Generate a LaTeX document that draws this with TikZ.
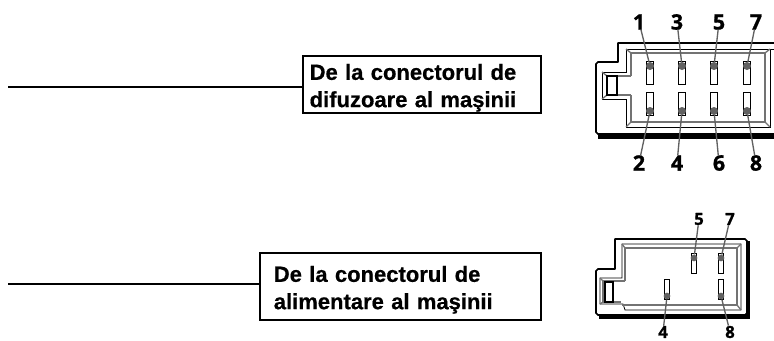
\documentclass[tikz,border=0pt]{standalone}
\usepackage{fontspec}
\setmainfont[BoldFeatures={FakeBold=0.6}]{Liberation Sans}
\newfontfamily\pinfont[BoldFeatures={FakeBold=1.2}]{Open Sans}
\usetikzlibrary{positioning}
\definecolor{leadgray}{gray}{0.38}
\definecolor{wallgray}{gray}{0.45}
\newcommand{\topstrut}{\rule{0pt}{16.9pt}}
\tikzset{
  textbox/.style={draw=black,line width=1pt,rectangle,align=left,inner ysep=0pt,
    font=\bfseries\fontsize{16.5}{20.5}\selectfont},
  pin/.style={draw=black,fill=white,line width=1pt,rectangle,minimum width=5.2pt,minimum height=17pt,inner sep=0pt},
  smallpin/.style={pin,line width=0.8pt,minimum width=4.4pt,minimum height=14.5pt},
  dot/.style={circle,fill=leadgray,minimum size=6pt,inner sep=0pt},
  smalldot/.style={circle,fill=leadgray,minimum size=5pt,inner sep=0pt},
  biglabel/.style={inner sep=0pt,font=\pinfont\bfseries\fontsize{16}{16}\selectfont},
  smalllabel/.style={inner sep=0pt,font=\pinfont\bfseries\fontsize{12.5}{13}\selectfont},
  lead/.style={draw=leadgray,line width=1pt},
  shell/.style={draw=black,line width=1.3pt,fill=white,line join=round},
  wall/.style={draw=black,line width=0.6pt},
  lip/.style={draw=wallgray,line width=1pt}
}
\begin{document}
\begin{tikzpicture}[x=0.75pt,y=-0.75pt]
  \useasboundingbox (0,0) rectangle (774,340);
  \clip (0,0) rectangle (774,340);
  % text boxes
  \node [textbox,minimum width=178.5pt,minimum height=42.75pt,text width=168.5pt,inner xsep=5pt] (boxa) at (422,84.5) {\topstrut De la conectorul de\\difuzoare al maşinii};
  \node [textbox,minimum width=210.75pt,minimum height=50.25pt,text width=190pt,inner xsep=9.75pt] (boxb) at (400.5,286.5) {\topstrut De la conectorul de\\alimentare al maşinii};
  \coordinate (la) at (8,87);
  \coordinate (lb) at (8,284);
  \draw [line width=1pt] (la) -- (la -| boxa.west);
  \draw [line width=1pt] (lb) -- (lb -| boxb.west);
  % upper connector
  \fill (598,134) rectangle (780,139);
  \draw [shell] (780,43) -- (618,43) -- (618,62) -- (598,62) -- (596,64) -- (596,132) -- (598,134) -- (780,134);
  \draw [wall] (780,49) -- (626,49) -- (626,72) -- (602,72) -- (602,99) -- (626,99) -- (626,127) -- (770,127) -- (770,49);
  \draw [lip] (631,76) -- (631,53) -- (765,53) -- (765,122) -- (631,122) -- (631,95);
  \draw [lip] (631,76) -- (607,76) -- (607,95) -- (631,95);
  \draw [lip] (626,49) -- (631,53) (626,127) -- (631,122) (770,127) -- (765,122) (770,49) -- (765,53);
  \draw [lip] (602,72) -- (607,76) (607,95) -- (602,99);
  \draw [black,line width=0.9pt] (607,76) rectangle (617,95);
  \foreach \name/\xpos in {a/650,b/682,c/714,d/747} {
    \node [pin] (up\name) at (\xpos,73) {};
    \node [pin] (lo\name) at (\xpos,104) {};
  }
  \node [dot] (d1) at (650,66) {};
  \node [dot] (d3) at (682,66) {};
  \node [dot] (d5) at (714,66) {};
  \node [dot] (d7) at (747,66) {};
  \node [dot] (d2) at (650,111) {};
  \node [dot] (d4) at (682,111) {};
  \node [dot] (d6) at (714,111) {};
  \node [dot] (d8) at (747,111) {};
  \node [biglabel] (l1) at (639,22) {1};
  \node [biglabel] (l3) at (677,22) {3};
  \node [biglabel] (l5) at (719,22) {5};
  \node [biglabel] (l7) at (756,22) {7};
  \node [biglabel] (l2) at (639,163) {2};
  \node [biglabel] (l4) at (677,163) {4};
  \node [biglabel] (l6) at (719,163) {6};
  \node [biglabel] (l8) at (756,163) {8};
  \path [lead] (l1) edge (d1) (l3) edge (d3) (l5) edge (d5) (l7) edge (d7)
    (l2) edge (d2) (l4) edge (d4) (l6) edge (d6) (l8) edge (d8);
  % lower connector
  \fill (599,315) rectangle (750,319);
  \fill (746,241) rectangle (750,319);
  \draw [shell] (615,239) -- (745,239) -- (747,241) -- (747,313) -- (745,315) -- (598,315) -- (596,313) -- (596,271) -- (598,269) -- (615,269) -- cycle;
  \draw [wall] (622,244) -- (741,244) -- (741,310) -- (625,310) -- (623,304) -- (600,304) -- (600,278) -- (622,278) -- cycle;
  \draw [lip] (625,281) -- (625,248) -- (737,248) -- (737,305) -- (622,305);
  \draw [lip] (625,281) -- (603,281) -- (603,302) -- (621,302);
  \draw [lip] (622,244) -- (625,248) (741,244) -- (737,248) (741,310) -- (737,305) (600,278) -- (603,281) (600,304) -- (603,302);
  \draw [black,line width=0.9pt] (605,282) rectangle (613,302);
  \node [smallpin] (pfive) at (694,263.5) {};
  \node [smallpin] (pseven) at (721,263.5) {};
  \node [smallpin] (pfour) at (667,289.5) {};
  \node [smallpin] (peight) at (721,289.5) {};
  \node [smalldot] (e5) at (694,258) {};
  \node [smalldot] (e7) at (721,258) {};
  \node [smalldot] (e4) at (667,296) {};
  \node [smalldot] (e8) at (721,296) {};
  \node [smalllabel] (m5) at (699,219) {5};
  \node [smalllabel] (m7) at (730,219) {7};
  \node [smalllabel] (m4) at (663,332) {4};
  \node [smalllabel] (m8) at (730,332) {8};
  \path [lead] (m5) edge (e5) (m7) edge (e7) (m4) edge (e4) (m8) edge (e8);
\end{tikzpicture}
\end{document}
